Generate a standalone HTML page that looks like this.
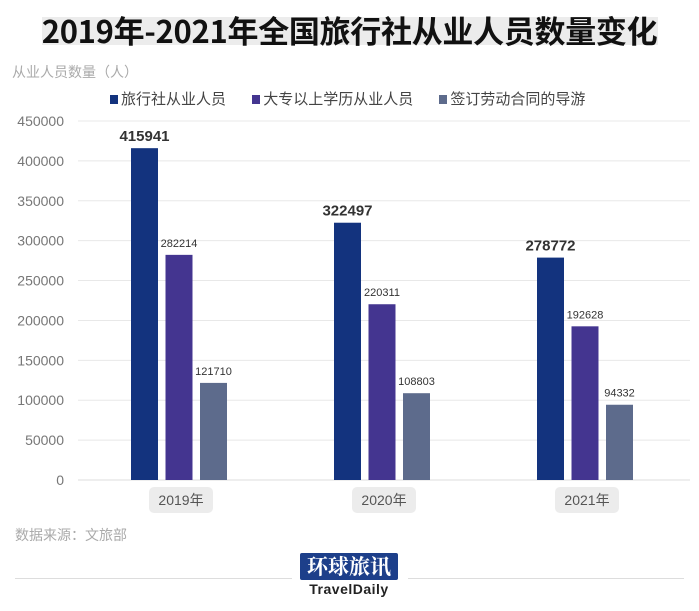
<!DOCTYPE html>
<html><head><meta charset="utf-8">
<style>
body{margin:0;width:699px;height:611px;background:#fff;font-family:"Liberation Sans","Noto Sans CJK SC",sans-serif;overflow:hidden;position:relative}
.abs{position:absolute}
</style></head><body>
<div class="abs" style="left:42px;top:17px;width:616px;height:28px;background:#ececec"></div>
<div class="abs" style="left:0;top:9px;width:699px;text-align:center;font-size:31px;font-weight:bold;color:#111;font-family:'Noto Sans CJK SC',sans-serif;line-height:42px;letter-spacing:-0.3px">2019年-2021年全国旅行社从业人员数量变化</div>
<div class="abs" style="left:12px;top:62px;font-size:14px;color:#aaa">从业人员数量（人）</div>
<div class="abs" style="left:110px;top:88px;font-size:15px;color:#444;white-space:nowrap">
<span><span style="display:inline-block;width:8px;height:9px;background:#13337e;margin-right:3px"></span>旅行社从业人员</span>
<span style="margin-left:22px"><span style="display:inline-block;width:8px;height:9px;background:#443590;margin-right:3px"></span>大专以上学历从业人员</span>
<span style="margin-left:22px"><span style="display:inline-block;width:8px;height:9px;background:#5d6b8c;margin-right:3px"></span>签订劳动合同的导游</span>
</div>
<svg class="abs" style="left:0;top:0" width="699" height="611" id="chart"></svg>
<div class="abs" style="left:15px;top:525px;font-size:14px;color:#aaa">数据来源：文旅部</div>
<div class="abs" style="left:15px;top:578px;width:277px;height:1px;background:#ddd"></div>
<div class="abs" style="left:408px;top:578px;width:276px;height:1px;background:#ddd"></div>
<div class="abs" style="left:300px;top:553px;width:98px;height:27px;background:#1d3f8a;border-radius:2px;color:#fff;font-family:'Noto Serif CJK SC',serif;font-weight:bold;font-size:21px;line-height:27px;text-align:center">环球旅讯</div>
<div class="abs" style="left:290px;top:581px;width:118px;text-align:center;font-size:14px;font-weight:bold;color:#222;letter-spacing:0.5px">TravelDaily</div>
<script>
const categories=["2019年","2020年","2021年"];
const seriesTotal=[415941,322497,278772];
const seriesCollege=[282214,220311,192628];
const seriesGuide=[121710,108803,94332];
const ticks=[0,50000,100000,150000,200000,250000,300000,350000,400000,450000];
const colors=["#13337e","#443590","#5d6b8c"];
const svg=document.getElementById('chart');
const NS="http://www.w3.org/2000/svg";
const y0=480,y1=121,maxV=450000,xL=78,xR=690;
const y=v=>y0-(v/maxV)*(y0-y1);
const cx=i=>181+i*203;
function el(t,a,txt){const e=document.createElementNS(NS,t);for(const k in a)e.setAttribute(k,a[k]);if(txt!==undefined)e.textContent=txt;svg.appendChild(e);return e;}
ticks.forEach(t=>{
 const l=el('line',{x1:xL,x2:xR,y1:y(t),y2:y(t),stroke:t===0?'#ddd':'#e8e8e8','stroke-width':1});
 
 
 const tx=el('text',{x:64,y:y(t)+5,'text-anchor':'end','font-size':14,fill:'#777','font-family':'Liberation Sans,sans-serif'},String(t));
 
 
});
const series=[seriesTotal,seriesCollege,seriesGuide];
const fs=[15,11,11];
categories.forEach((c,i)=>{
 series.forEach((s,j)=>{
  const x=cx(i)-50+j*34.5;
  const r=el('rect',{x:x,y:y(s[i]),width:27,height:y0-y(s[i]),fill:colors[j]});
  
  
  const t=el('text',{x:x+13.5,y:y(s[i])-(j===0?7:8),'text-anchor':'middle','font-size':fs[j],'font-weight':j===0?'bold':'normal',fill:'#333','font-family':'Liberation Sans,sans-serif'},String(s[i]));
  
  
 });
 const p=el('rect',{x:cx(i)-32,y:487,width:64,height:26,rx:5,fill:'#ececec'});
 
 
 const lt=el('text',{x:cx(i),y:505,'text-anchor':'middle','font-size':14,fill:'#555','font-family':'Liberation Sans,Noto Sans CJK SC,sans-serif'},c);
 
 
});
</script>
</body></html>
